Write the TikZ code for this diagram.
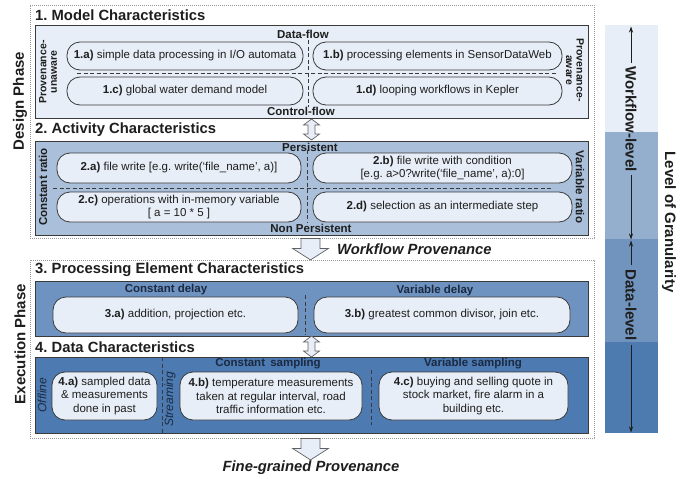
\documentclass[tikz,border=0pt]{standalone}
\usepackage{fontspec}
\setmainfont{Liberation Sans}
\usetikzlibrary{calc,arrows.meta}
\definecolor{cA}{HTML}{E8EEF7}
\definecolor{cB}{HTML}{A9BFDA}
\definecolor{cC}{HTML}{6F93C0}
\definecolor{cD}{HTML}{4C7AB1}
\definecolor{barB}{HTML}{94AECD}
\definecolor{barC}{HTML}{7194BF}
\definecolor{barD}{HTML}{4D7BB0}
\definecolor{edge}{HTML}{3A3A3A}
\definecolor{ink}{HTML}{1E1E1E}
\definecolor{navy}{HTML}{1B2A42}
\definecolor{dotc}{HTML}{9A9A9A}
\frenchspacing
\begin{document}
\begin{tikzpicture}[x=1pt,y=-1pt,
 txt/.style={font=\fontsize{11.5}{13.5}\selectfont, inner sep=0pt, text=ink},
 lbl/.style={font=\fontsize{11.5}{13.5}\selectfont\bfseries, inner sep=0pt, text=ink},
 sidelbl/.style={font=\fontsize{10.5}{10.5}\selectfont\bfseries, inner sep=0pt, text=ink, align=center},
 ttl/.style={font=\fontsize{14.8}{17}\selectfont\bfseries, inner sep=0pt, anchor=west, text=ink},
 big/.style={font=\fontsize{15}{18}\selectfont\bfseries, inner sep=0pt, text=ink},
 phase/.style={draw=dotc, line width=0.8pt, dash pattern=on 0.9pt off 1.1pt, inner sep=0pt},
 panel/.style={draw=edge, line width=0.9pt, inner sep=0pt},
 item/.style={draw=edge, fill=cA, line width=0.8pt, rounded corners=13pt, inner sep=0pt, align=center, font=\fontsize{11.5}{13.5}\selectfont, text=ink},
 divider/.style={draw=edge, dash pattern=on 4pt off 2.5pt, line width=0.7pt},
 hollow/.style={draw=edge!80, fill=cA, line width=0.7pt, line join=miter},
 barrow/.style={draw=ink, line width=0.7pt, -{Stealth[length=6pt,width=4pt]}},
 dblarrow/.pic={\draw[hollow] (0,-10.5) -- (8,-4.5) -- (3.5,-4.5) -- (3.5,4.5) -- (8,4.5) -- (0,10.5) -- (-8,4.5) -- (-3.5,4.5) -- (-3.5,-4.5) -- (-8,-4.5) -- cycle;},
 downarrow/.pic={\draw[hollow] (-9.5,0) -- (9.5,0) -- (9.5,10) -- (18,10) -- (0,21.5) -- (-18,10) -- (-9.5,10) -- cycle;}
]
\useasboundingbox (0,0) rectangle (688,479);

% phase boxes
\node[phase, minimum width=564pt, minimum height=233pt] (dp) at (312,121.5) {};
\node[phase, minimum width=564pt, minimum height=178pt] (ep) at (312,349) {};

% panels
\node[panel, fill=cA, minimum width=553pt, minimum height=93pt] (m1) at (311.5,71.5) {};
\node[panel, fill=cB, minimum width=553pt, minimum height=94pt] (m2) at (311.5,188) {};
\node[panel, fill=cC, minimum width=553pt, minimum height=55pt] (m3) at (311.5,308.5) {};
\node[panel, fill=cD, minimum width=553pt, minimum height=76pt] (m4) at (311.5,395) {};

% titles
\node[ttl] (t1) at (35,15) {1. Model Characteristics};
\node[ttl] (t2) at (35,130) {2. Activity Characteristics};
\node[ttl] (t3) at (35,270) {3. Processing Element Characteristics};
\node[ttl] (t4) at (35,347) {4. Data Characteristics};

% phase labels
\node[big, rotate=90] (dph) at (20,101) {Design Phase};
\node[big, rotate=90] (eph) at (20,344) {Execution Phase};

% ---- box 1
\draw[divider] (308,40) -- (308,107);
\draw[divider] (77,73) -- (557,73);
\node[lbl] (df) at (303,34) {Data-flow};
\node[lbl] (cf) at (301,111) {Control-flow};
\node[sidelbl, rotate=90] (pu) at (48,72) {Provenance-\\unaware};
\node[sidelbl, rotate=-90] (pa) at (575,70) {Provenance-\\aware};
\node[item, minimum width=236pt, minimum height=28pt] (n1a) at (185,56) {\textbf{1.a)} simple data processing in I/O automata};
\node[item, minimum width=249pt, minimum height=28pt] (n1b) at (437.5,56) {\textbf{1.b)} processing elements in SensorDataWeb};
\node[item, minimum width=236pt, minimum height=28pt] (n1c) at (185,91) {\textbf{1.c)} global water demand model};
\node[item, minimum width=249pt, minimum height=28pt] (n1d) at (437.5,91) {\textbf{1.d)} looping workflows in Kepler};

% ---- box 2
\draw[divider] (307,150) -- (307,222);
\draw[divider] (53,188) -- (553,188);
\node[lbl] (ps) at (310,147) {Persistent};
\node[lbl] (nps) at (311,228.5) {Non Persistent};
\node[lbl, rotate=90] (cr) at (43,187) {Constant ratio};
\node[lbl, rotate=-90] (vr) at (580,187) {Variable ratio};
\node[item, minimum width=244pt, minimum height=30pt] (n2a) at (179,168) {\textbf{2.a)} file write [e.g. write(‘file\_name’, a)]};
\node[item, minimum width=259pt, minimum height=30pt] (n2b) at (442.5,168) {\textbf{2.b)} file write with condition\\{}[e.g. a>0?write(‘file\_name’, a):0]};
\node[item, minimum width=244pt, minimum height=30pt] (n2c) at (179,207) {\textbf{2.c)} operations with in-memory variable\\{}[ a = 10 * 5 ]};
\node[item, minimum width=259pt, minimum height=30pt] (n2d) at (442.5,207) {\textbf{2.d)} selection as an intermediate step};

% ---- box 3
\draw[divider] (305,295) -- (305,335);
\node[lbl, text=navy] (cd) at (166,290) {Constant delay};
\node[lbl, text=navy] (vd) at (435,291) {Variable delay};
\node[item, minimum width=245pt, minimum height=36pt] (n3a) at (175.5,315) {\textbf{3.a)} addition, projection etc.};
\node[item, minimum width=256pt, minimum height=36pt] (n3b) at (442,315) {\textbf{3.b)} greatest common divisor, join etc.};

% ---- box 4
\draw[divider] (162,357) -- (162,433);
\draw[divider] (371,370) -- (371,425);
\node[txt, font=\fontsize{12}{14}\selectfont\itshape, text=navy, rotate=90] (off) at (42,395) {Offline};
\node[txt, font=\fontsize{12}{14}\selectfont\itshape, text=navy, rotate=90] (str) at (170,399) {Streaming};
\node[lbl, text=navy] (cs) at (268,363.5) {Constant\hspace{0.45em}sampling};
\node[lbl, text=navy] (vs) at (473,364) {Variable sampling};
\node[item, minimum width=105pt, minimum height=48pt] (n4a) at (104.5,396) {\textbf{4.a)} sampled data\\\& measurements\\done in past};
\node[item, minimum width=182pt, minimum height=48pt] (n4b) at (271,396) {\textbf{4.b)} temperature measurements\\taken at regular interval, road\\traffic information etc.};
\node[item, minimum width=189pt, minimum height=48pt] (n4c) at (473.5,396) {\textbf{4.c)} buying and selling quote in\\stock market, fire alarm in a\\building etc.};

% arrows between panels
\pic at ($(m1.south)!0.5!(m2.north)$) {dblarrow};
\pic at ($(m3.south)!0.5!(m4.north)$) {dblarrow};
\pic at ($(dp.south)+(-1.5,0)$) {downarrow};
\pic at ($(ep.south)+(-1.5,0)$) {downarrow};
\node[font=\fontsize{14.8}{17}\selectfont\bfseries\itshape, inner sep=0pt, anchor=west, text=ink] (wfp) at (337,249) {Workflow Provenance};
\node[font=\fontsize{14.8}{17}\selectfont\bfseries\itshape, inner sep=0pt, text=ink] (fgp) at (311,468) {Fine-grained Provenance};

% ---- right granularity bar
\fill[cA] (605,25) rectangle (658,132);
\fill[barB] (605,132) rectangle (658,239);
\fill[barC] (605,239) rectangle (658,342);
\fill[barD] (605,342) rectangle (658,433);
\node[big, rotate=-90, inner sep=3pt] (wl) at (631,119) {Workflow-level};
\node[big, rotate=-90, inner sep=4pt] (dl) at (631,305) {Data-level};
\node[big, rotate=-90] (lg) at (669,222) {Level of Granularity};
\coordinate (wtop) at (631,26.5);
\coordinate (wbot) at (631,239.5);
\coordinate (dtop) at (631,240.5);
\coordinate (dbot) at (631,432.5);
\draw[barrow] (wl.west) -- (wtop);
\draw[barrow] (wl.east) -- (wbot);
\draw[barrow] (dl.west) -- (dtop);
\draw[barrow] (dl.east) -- (dbot);
\end{tikzpicture}
\end{document}
